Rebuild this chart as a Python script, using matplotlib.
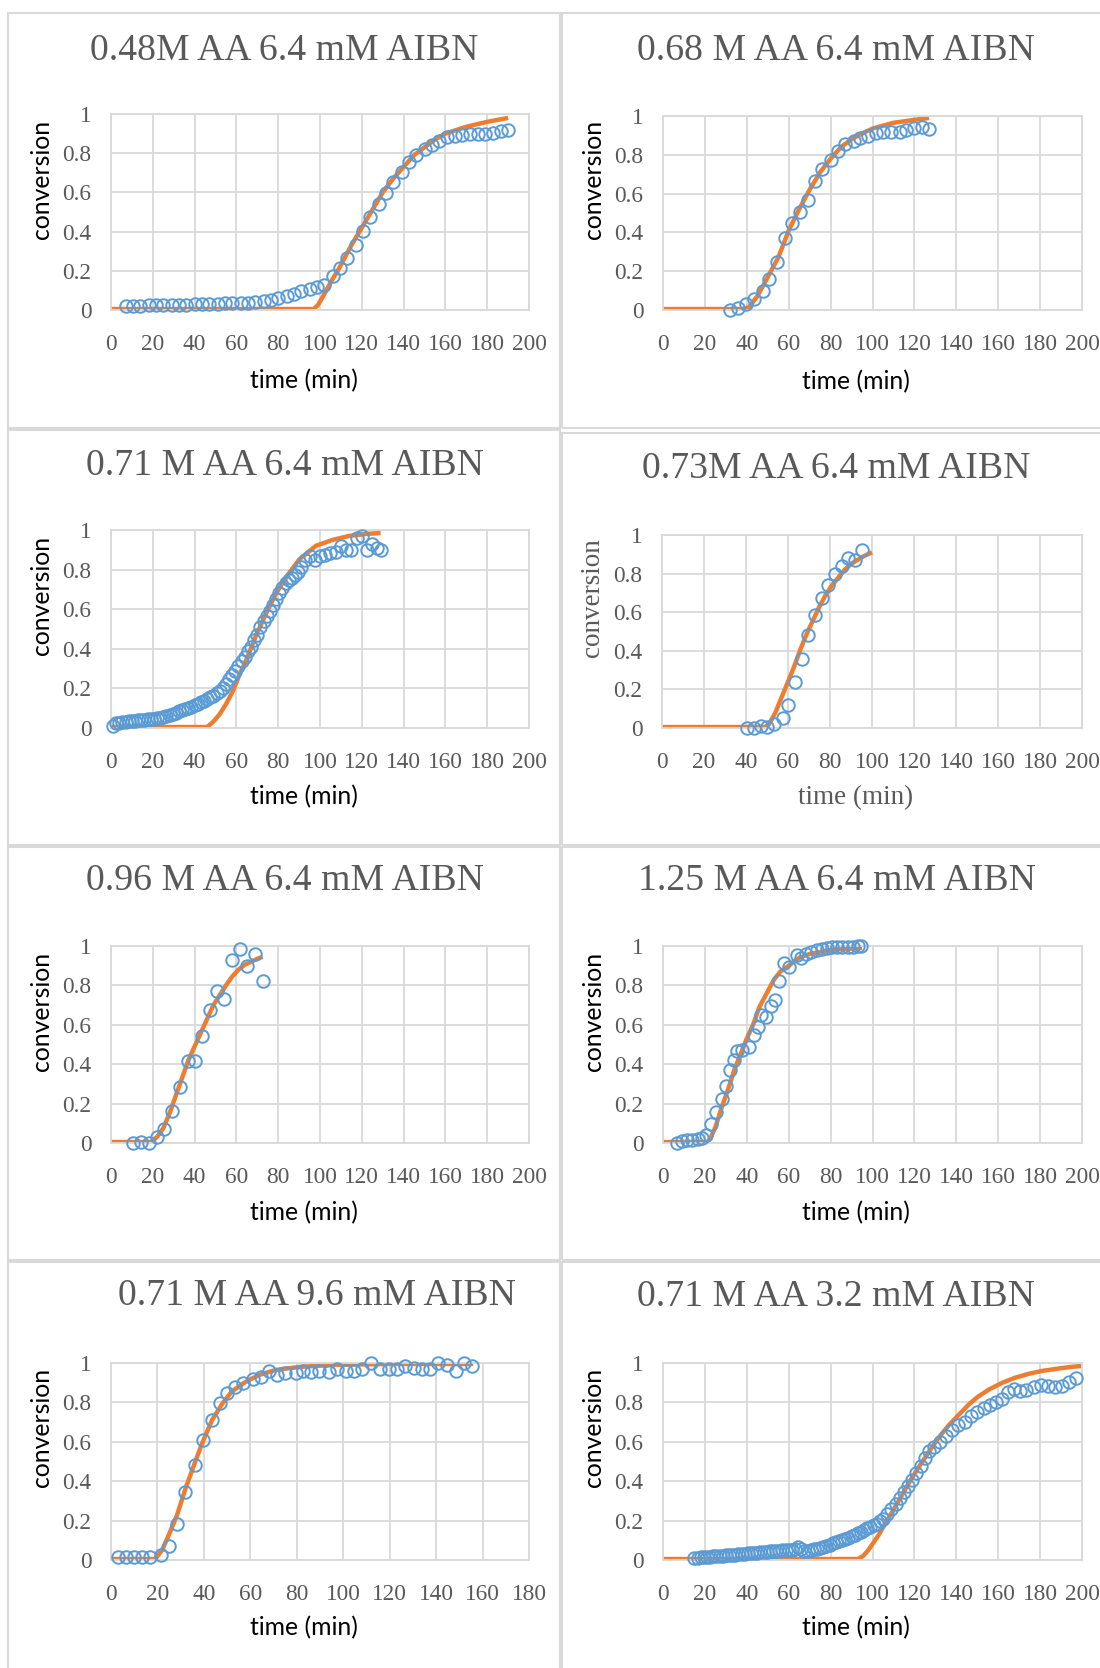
import matplotlib.pyplot as plt
from matplotlib.patches import Rectangle

# ---- data: measured conversion (blue circles) and model fit (orange line) ----
# 0.48 M AA, 6.4 mM AIBN
t1_obs = [7, 10.5, 14, 18, 21.5, 25, 29, 32.5, 36, 40, 43.5, 47, 51, 54.5, 58, 62, 65.5, 69, 73, 76.5,
          80, 84, 87.5, 91, 95, 98.5, 102, 106, 109.5, 113, 117, 120.5, 124, 128, 131.5, 135, 139,
          142.5, 146, 150, 153.5, 157, 161, 164.5, 168, 172, 175.5, 179, 183, 186.5, 190]
y1_obs = [.02, .022, .022, .023, .024, .025, .026, .027, .028, .029, .03, .031, .032, .034, .035, .036,
          .038, .04, .045, .052, .06, .07, .08, .095, .108, .115, .13, .175, .215, .265, .33, .405,
          .475, .54, .595, .655, .705, .755, .79, .82, .84, .86, .885, .89, .895, .9, .9, .9, .905,
          .915, .92]
t1_fit = [0, 97, 99, 101.5, 105, 109, 115, 120, 125, 130, 135, 140, 145, 150, 155, 160, 170, 180, 190]
y1_fit = [.005, .005, .025, .07, .14, .21, .33, .42, .51, .6, .67, .73, .79, .83, .87, .9, .935, .96, .98]

# 0.68 M AA, 6.4 mM AIBN
t2_obs = [32, 36, 39.5, 43.5, 47.5, 50.5, 54.5, 58, 61.5, 65.5, 69, 72.5, 76, 80, 83.5, 87, 91, 94,
          98, 101.5, 105, 109, 113, 116, 120, 123.5, 127]
y2_obs = [0.0, .01, .03, .055, .1, .16, .245, .37, .45, .505, .565, .665, .725, .775, .82, .855, .87,
          .885, .895, .91, .92, .915, .92, .93, .94, .943, .935]
t2_fit = [0, 38, 41, 45, 50, 55, 60, 65, 70, 75, 80, 85, 90, 95, 100, 110, 120, 127]
y2_fit = [.005, .005, .015, .07, .17, .27, .41, .52, .62, .71, .78, .84, .88, .91, .935, .965, .98, .99]

# 0.71 M AA, 6.4 mM AIBN
t3_obs = [1, 2.5, 4, 5.5, 7, 8.5, 10, 11.5, 13, 14.5, 16, 17.5, 19, 20.5, 22, 23.5, 25, 26.5, 28,
          29.5, 31, 32.5, 34, 35.5, 37, 38.5, 40, 41.5, 43, 44.5, 46, 47.5, 49, 50.5, 52, 53.5, 55,
          56.5, 58, 59.5, 61, 62.5, 64, 65.5, 67, 68.5, 70, 71.5, 73, 74.5, 76, 77.5, 79, 80.5, 82,
          83.5, 85, 86.5, 88, 89.5, 91, 93, 95, 97.5, 100, 102.5, 105, 107.5, 110, 112.5, 115, 117.5,
          120, 122.5, 125, 127.5, 129]
y3_obs = [.012, .025, .027, .029, .031, .033, .034, .036, .038, .04, .041, .043, .045, .047, .05,
          .053, .058, .063, .068, .073, .078, .084, .09, .096, .102, .108, .115, .122, .13, .138,
          .146, .155, .163, .175, .187, .2, .22, .245, .27, .29, .315, .34, .36, .39, .41, .445,
          .47, .51, .54, .565, .59, .62, .65, .68, .705, .73, .745, .76, .775, .79, .815, .85, .87,
          .85, .87, .875, .885, .89, .92, .9, .9, .96, .97, .9, .93, .91, .9]
t3_fit = [0, 46, 48.8, 52, 55, 58.5, 61.5, 65, 69.5, 74.5, 79, 84, 90, 98, 106, 114, 122, 129]
y3_fit = [.005, .005, .03, .07, .12, .19, .27, .35, .47, .585, .68, .765, .85, .92, .95, .97, .98, .985]

# 0.73 M AA, 6.4 mM AIBN
t4_obs = [40.5, 44, 47, 50, 53.5, 57.5, 60, 63.5, 66.5, 69.5, 73, 76, 79, 82.5, 85.5, 88.5, 92, 95]
y4_obs = [0, 0, .01, .005, .02, .05, .12, .24, .36, .48, .585, .675, .74, .8, .84, .88, .87, .92]
t4_fit = [0, 49, 51, 54, 57, 60, 63, 66, 69, 72, 75, 78, 81, 84, 87, 90, 93, 96, 100]
y4_fit = [.005, .005, .02, .08, .16, .24, .32, .41, .49, .56, .63, .69, .74, .78, .82, .85, .87, .89, .91]

# 0.96 M AA, 6.4 mM AIBN
t5_obs = [10.6, 14.5, 18.4, 21.8, 25.3, 29, 32.9, 36.7, 40.1, 43.5, 47.3, 50.9, 54.3, 58, 61.8,
          65.2, 68.9, 72.5]
y5_obs = [0.0, .007, .002, .03, .07, .164, .283, .416, .416, .544, .676, .77, .73, .928, .983, .898,
          .957, .82]
t5_fit = [0, 19, 22, 25, 28, 31, 34, 37, 40, 43, 46, 49, 52, 55, 58, 61, 64, 67, 70, 72.5]
y5_fit = [.005, .005, .03, .075, .15, .24, .33, .42, .49, .56, .63, .70, .75, .80, .845, .88, .905,
          .92, .935, .945]

# 1.25 M AA, 6.4 mM AIBN
t6_obs = [6.6, 9, 11.5, 14, 16.5, 18.5, 20.6, 23, 25.5, 28, 30, 32, 33.7, 35.4, 37.9, 41.2, 43.6,
          45.3, 47, 49.4, 51.4, 53.5, 55.6, 57.6, 60, 63.8, 65.8, 68.3, 70.8, 73.3, 75.7, 78.2, 80.7,
          83.1, 85.6, 88.1, 90.5, 93, 94.6]
y6_obs = [0.0, .01, .014, .017, .022, .024, .041, .096, .155, .224, .29, .37, .42, .468, .474, .488,
          .548, .59, .65, .642, .693, .724, .82, .915, .894, .952, .94, .957, .97, .98, .986, .99,
          .995, .997, .997, .997, .997, .998, 1.0]
t6_fit = [0, 21, 22.5, 25, 28, 31, 34, 37, 40, 43, 46, 50, 53, 56, 60, 65, 70, 80, 95]
y6_fit = [.005, .005, .02, .08, .18, .27, .37, .45, .53, .6, .69, .77, .83, .87, .9, .94, .96, .98, .99]

# 0.71 M AA, 9.6 mM AIBN
t7_obs = [3, 6.5, 10, 13.5, 17, 21.5, 25, 28.5, 32, 36, 39.5, 43.5, 47, 50, 53.5, 57, 61, 64.5, 68,
          71.5, 75, 79.5, 82.5, 86, 89.5, 94, 97.5, 101, 104.5, 108, 112, 116, 119.5, 123, 126.5,
          130.5, 134, 137.5, 141, 144.5, 148.5, 152, 155.5]
y7_obs = [.014, .014, .014, .014, .014, .026, .073, .185, .344, .484, .61, .713, .795, .85, .88, .9,
          .92, .93, .96, .94, .95, .95, .96, .955, .96, .955, .97, .96, .96, .97, 1.0, .97, .97, .97,
          .985, .975, .97, .97, 1.0, .99, .96, 1.0, .985]
t7_fit = [0, 19, 22, 25, 28.5, 32, 36, 39.5, 43.5, 48, 52, 58, 64, 71, 81, 95, 120, 156]
y7_fit = [.005, .005, .05, .13, .23, .36, .49, .6, .71, .795, .855, .905, .94, .965, .98, .99, .995, .995]

# 0.71 M AA, 3.2 mM AIBN
t8_obs = [15, 16.5, 18, 19.5, 21, 22.5, 24, 25.5, 27, 28.5, 30, 31.5, 33, 34.5, 36, 37.5, 39, 40.5,
          42, 43.5, 45, 46.5, 48, 49.5, 51, 52.5, 54, 55.5, 57, 58.5, 60, 61.5, 63, 64.5, 66, 67.5,
          69, 70.5, 72, 73.5, 75, 76.5, 78, 79.5, 81, 82.5, 84, 85.5, 87, 88.5, 90, 91.5, 93, 94.5,
          96, 97.5, 99, 100.5, 102, 103.5, 105, 107, 109, 111, 113, 115, 117, 119, 121, 123, 125,
          127, 129.5, 132, 135, 138, 141, 144, 147, 150, 153, 156, 159, 162, 164.5, 167.5, 170.5,
          173.5, 177, 180.5, 184, 187, 190.5, 194, 197]
y8_obs = [.01, .012, .013, .015, .016, .017, .018, .02, .021, .022, .024, .025, .026, .027, .029,
          .03, .032, .033, .035, .036, .038, .04, .041, .043, .045, .046, .047, .048, .049, .05, .05,
          .052, .058, .067, .055, .045, .048, .052, .055, .058, .062, .066, .072, .078, .084, .09,
          .096, .102, .108, .114, .12, .128, .136, .144, .152, .16, .168, .176, .185, .197, .21,
          .235, .26, .285, .315, .345, .375, .405, .44, .475, .52, .555, .575, .6, .63, .66, .685,
          .7, .73, .75, .77, .785, .8, .815, .855, .87, .86, .865, .88, .89, .885, .88, .885, .905,
          .925]
t8_fit = [0, 93, 95.5, 98, 103, 107.5, 112.5, 117, 122, 127, 131.5, 136.5, 141, 146, 150.5, 155.5,
          162, 168, 174.5, 181, 187.5, 194.5, 200]
y8_fit = [.005, .005, .02, .05, .128, .21, .3, .385, .47, .55, .62, .685, .735, .79, .83, .865, .9,
          .925, .945, .96, .97, .98, .985]

titles = ["0.48M AA 6.4 mM AIBN", "0.68 M AA 6.4 mM AIBN", "0.71 M AA 6.4 mM AIBN",
          "0.73M AA 6.4 mM AIBN", "0.96 M AA 6.4 mM AIBN", "1.25 M AA 6.4 mM AIBN",
          "0.71 M AA 9.6 mM AIBN", "0.71 M AA 3.2 mM AIBN"]
x_max = [200, 200, 200, 200, 200, 200, 180, 200]
y_ticks = [0, 0.2, 0.4, 0.6, 0.8, 1]
y_tick_labels = ["0", "0.2", "0.4", "0.6", "0.8", "1"]

series = [(t1_obs, y1_obs, t1_fit, y1_fit), (t2_obs, y2_obs, t2_fit, y2_fit),
          (t3_obs, y3_obs, t3_fit, y3_fit), (t4_obs, y4_obs, t4_fit, y4_fit),
          (t5_obs, y5_obs, t5_fit, y5_fit), (t6_obs, y6_obs, t6_fit, y6_fit),
          (t7_obs, y7_obs, t7_fit, y7_fit), (t8_obs, y8_obs, t8_fit, y8_fit)]

# ---- layout (pixels, origin top-left) ----
W, H = 1100, 1668
BLUE, ORANGE, GRID, GRAY = "#5B9BD5", "#ED7D31", "#D9D9D9", "#595959"
SERIF = "Liberation Serif"
SANS = "Lato"

# plot areas: x0, x1, y_top, y_bottom
plot_box = [(111, 529, 114, 310), (663, 1082, 116, 310),
            (111, 529, 530, 728), (662, 1082, 535, 728),
            (111, 529, 946, 1143), (663, 1082, 946, 1143),
            (111, 529, 1363, 1560), (663, 1082, 1363, 1560)]
title_pos = [(284, 60), (836, 60), (285, 475), (836, 478),
             (285, 890), (837, 890), (317, 1305), (836, 1306)]
ylabel_pos = [(41, 179), (593, 179), (41, 595), (593, 598),
              (41, 1011), (593, 1011), (41, 1427), (593, 1427)]
xlabel_pos = [(304, 381), (856, 382), (304, 797), (856, 798),
              (304, 1213), (856, 1213), (304, 1628), (856, 1628)]
frames = [(8, 13, 560, 428), (562, 13, 1110, 428),
          (8, 430, 560, 845), (562, 433, 1110, 845),
          (8, 847, 560, 1260), (562, 847, 1110, 1260),
          (8, 1262, 560, 1690), (562, 1262, 1110, 1690)]


def fx(px):
    return px / W


def fy(py):
    return 1 - py / H


fig = plt.figure(figsize=(W / 100, H / 100), dpi=100)

for (x0, y0, x1, y1) in frames:
    fig.add_artist(Rectangle((fx(x0), fy(y1)), (x1 - x0) / W, (y1 - y0) / H,
                             transform=fig.transFigure, fill=False, ec=GRID, lw=1.5))

for i, (t_obs, y_obs, t_fit, y_fit) in enumerate(series):
    x0, x1, yt, yb = plot_box[i]
    ax = fig.add_axes([fx(x0), fy(yb), (x1 - x0) / W, (yb - yt) / H])
    ax.plot(t_fit, y_fit, color=ORANGE, lw=3.2, solid_capstyle="butt", zorder=2)
    ax.plot(t_obs, y_obs, "o", mfc="none", mec=BLUE, ms=9, mew=1.4, zorder=3, clip_on=False)

    ax.set_xlim(0, x_max[i])
    ax.set_ylim(0, 1)
    ax.set_xticks(range(0, x_max[i] + 1, 20))
    ax.set_yticks(y_ticks)
    ax.set_yticklabels(y_tick_labels)
    ax.grid(color=GRID, lw=1.3)
    ax.set_axisbelow(True)
    for s in ax.spines.values():
        s.set_color(GRID)
        s.set_linewidth(1.3)
    ax.tick_params(length=0, labelsize=16.8, labelcolor=GRAY)
    ax.tick_params(axis="x", pad=17)
    ax.tick_params(axis="y", pad=14)
    for lab in ax.get_xticklabels() + ax.get_yticklabels():
        lab.set_family(SERIF)

    tx, ty = title_pos[i]
    fig.text(fx(tx), fy(ty), titles[i], ha="center", va="baseline",
             family=SERIF, size=27.2, color=GRAY)

    # the 0.73 M panel uses serif axis titles, the rest a sans face
    if i == 3:
        lab_kw = dict(family=SERIF, size=19.5, color=GRAY)
    else:
        lab_kw = dict(family=SANS, size=17.8, color="black")
    lx, ly = ylabel_pos[i]
    fig.text(fx(lx), fy(ly), "conversion", rotation=90, ha="center", va="center", **lab_kw)
    lx, ly = xlabel_pos[i]
    fig.text(fx(lx), fy(ly), "time (min)", ha="center", va="center", **lab_kw)

fig.savefig("out.png", dpi=100)
